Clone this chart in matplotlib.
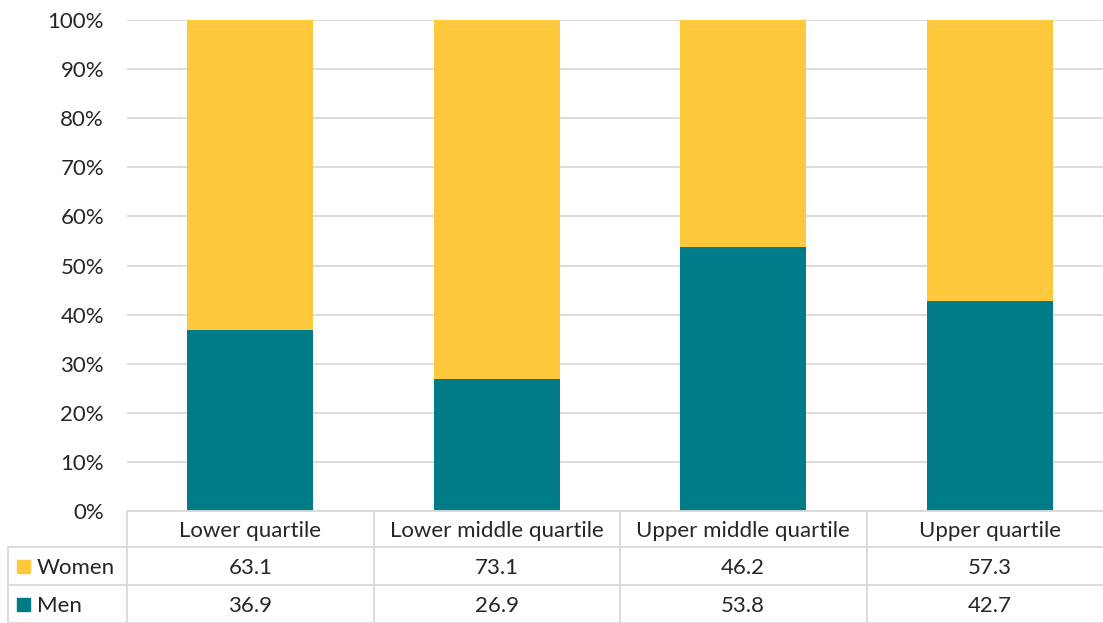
import numpy as np
import matplotlib.pyplot as plt
from matplotlib.patches import Rectangle
from matplotlib.transforms import blended_transform_factory

categories = ["Lower quartile", "Lower middle quartile", "Upper middle quartile", "Upper quartile"]
women = [63.1, 73.1, 46.2, 57.3]
men = [36.9, 26.9, 53.8, 42.7]
series_names = ["Women", "Men"]

YELLOW = "#FFC83D"
TEAL = "#007C89"
GRID = "#D9D9D9"
TEXT = "#262626"
FONT = "Lato"
FS = 16

W, H = 1103, 623
fig = plt.figure(figsize=(W / 100, H / 100), dpi=100)


def fx(px):
    return px / W


def fy(py):
    return 1 - py / H


# plot area in pixel units
left, right, top, bottom = 127, 1113, 20, 511
ax = fig.add_axes([fx(left), fy(bottom), fx(right - left), fy(top) - fy(bottom)])

x = np.arange(len(categories))
ax.bar(x, men, width=0.51, color=TEAL, zorder=3)
ax.bar(x, women, width=0.51, bottom=men, color=YELLOW, zorder=3)

ax.set_xlim(-0.5, len(categories) - 0.5)
ax.set_ylim(0, 100)
ax.set_yticks(np.arange(0, 101, 10))
ax.set_yticklabels([f"{v}%" for v in range(0, 101, 10)], fontsize=FS, color=TEXT, family=FONT)
ax.tick_params(axis="y", length=0, pad=16.5)
ax.set_xticks([])
ax.yaxis.grid(True, color=GRID, linewidth=1.3, zorder=0)
for s in ax.spines.values():
    s.set_visible(False)

# data table below the plot area
row_y = [511, 547, 585, 623]
lab_left = 8
lw = 1.3
line_kw = dict(color=GRID, linewidth=lw, transform=fig.transFigure, clip_on=False)
fig.add_artist(plt.Line2D([fx(left), 1], [fy(row_y[0])] * 2, **line_kw))
for ry in row_y[1:]:
    fig.add_artist(plt.Line2D([fx(lab_left), 1], [fy(ry)] * 2, **line_kw))
fig.add_artist(plt.Line2D([fx(lab_left)] * 2, [fy(row_y[1]), fy(row_y[3])], **line_kw))

trans = blended_transform_factory(ax.transData, fig.transFigure)
for b in np.arange(-0.5, len(categories), 1.0):
    ax.add_line(plt.Line2D([b, b], [fy(row_y[0]), fy(row_y[3])], transform=trans,
                           color=GRID, linewidth=lw, clip_on=False))

mid = lambda a, b: fy((a + b) / 2 + 2)
for i, cat in enumerate(categories):
    ax.text(x[i], mid(row_y[0], row_y[1]), cat, transform=trans, ha="center", va="center",
            fontsize=FS, color=TEXT, family=FONT)
    ax.text(x[i], mid(row_y[1], row_y[2]), f"{women[i]:.1f}", transform=trans, ha="center",
            va="center", fontsize=FS, color=TEXT, family=FONT)
    ax.text(x[i], mid(row_y[2], row_y[3]), f"{men[i]:.1f}", transform=trans, ha="center",
            va="center", fontsize=FS, color=TEXT, family=FONT)

# row labels with legend keys
for (y0, y1), name, col in zip([(row_y[1], row_y[2]), (row_y[2], row_y[3])], series_names, [YELLOW, TEAL]):
    cy = (y0 + y1) / 2
    fig.add_artist(Rectangle((fx(17), fy(cy + 7)), fx(13), fy(cy - 6) - fy(cy + 7),
                             transform=fig.transFigure, color=col))
    fig.text(fx(37), mid(y0, y1), name, ha="left", va="center", fontsize=FS, color=TEXT, family=FONT)

fig.savefig("out.png", dpi=100)
